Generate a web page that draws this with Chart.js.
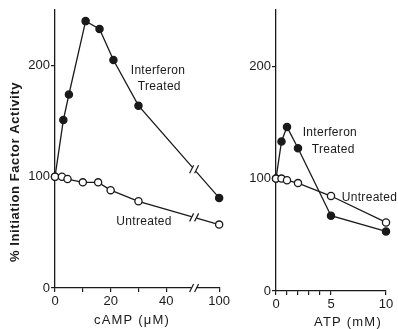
<!DOCTYPE html>
<html>
<head>
<meta charset="utf-8">
<script src="https://cdn.jsdelivr.net/npm/chart.js@4"></script>
<style>
  html, body { margin: 0; padding: 0; background: #fff; }
  #wrap { position: relative; width: 398px; height: 329px; }
  #c1 { position: absolute; left: 0; top: 0; }
  #c2 { position: absolute; left: 232px; top: 0; }
</style>
</head>
<body>
<div id="wrap">
  <canvas id="c1" width="232" height="329"></canvas>
  <canvas id="c2" width="166" height="329"></canvas>
</div>
<script>
// cAMP panel (uM), axis broken between 50 and 100
const campXTreated = [0, 3, 5, 11, 16, 21, 30, 100]
const campTreated = [100, 151, 174, 240, 233, 205, 164, 81]
const campXUntreated = [0, 2.5, 4.5, 10, 15.5, 20, 30, 100]
const campUntreated = [100, 100, 98, 95, 95, 88, 78, 57]
const campTicks = [0, 10, 20, 30, 40, 100]
const campTickLabels = ['0', '', '20', '', '40', '100']

// ATP panel (mM)
const atpX = [0, 0.5, 1, 2, 5, 10]
const atpTreated = [100, 133, 146, 127, 67, 53]
const atpUntreated = [100, 100, 98.5, 96, 84.5, 61]
const atpTicks = [0, 1, 2, 3, 4, 5, 10]
const atpTickLabels = ['0', '', '', '', '', '5', '10']

const yTicks = [0, 100, 200]

const tinta = '#1a1a1a'
const fonte = '"Liberation Sans", Arial, sans-serif'

//quebra do eixo: 50 -> 50, 100 -> 59
function quebra (v) {
  return v > 50 ? 50 + (v - 50) * 9 / 50 : v
}

function pontos (xs, ys, mapa) {
  return xs.map((x, i) => ({ x: mapa ? mapa(x) : x, y: ys[i] }))
}

function serie (data, cheio) {
  return {
    data: data,
    borderColor: tinta,
    borderWidth: 1.3,
    pointRadius: 3.6,
    pointBorderWidth: 1.3,
    pointBorderColor: tinta,
    pointBackgroundColor: cheio ? tinta : '#fff',
    tension: 0,
    fill: false,
    clip: false
  }
}

function escalas (xMin, xMax, ticksX, labelsX, yWidth, xHeight) {
  return {
    x: {
      type: 'linear', min: xMin, max: xMax,
      border: { display: true, color: tinta, width: 1.3 },
      grid: { display: true, drawOnChartArea: false, drawTicks: true, tickLength: 4, color: tinta, lineWidth: 1.2 },
      afterBuildTicks: (s) => { s.ticks = ticksX.map(v => ({ value: v })) },
      ticks: {
        autoSkip: false, maxRotation: 0, padding: 2, color: tinta,
        font: { family: fonte, size: 13 },
        callback: (v, i) => labelsX[i]
      },
      afterFit: (s) => { s.height = xHeight }
    },
    y: {
      type: 'linear', min: 0, max: 250,
      border: { display: true, color: tinta, width: 1.3 },
      grid: { display: true, drawOnChartArea: false, drawTicks: true, tickLength: 4, color: tinta, lineWidth: 1.2 },
      afterBuildTicks: (s) => { s.ticks = yTicks.map(v => ({ value: v })) },
      ticks: {
        autoSkip: false, padding: 1, color: tinta,
        font: { family: fonte, size: 13 },
        callback: (v) => String(v)
      },
      afterFit: (s) => { s.width = yWidth }
    }
  }
}

//textos soltos dentro do grafico, em coordenadas de dados
function pluginTextos (textos) {
  return {
    id: 'textos',
    afterDatasetsDraw (chart) {
      const c = chart.ctx
      const sx = chart.scales.x
      const sy = chart.scales.y
      c.save()
      c.fillStyle = tinta
      c.font = '12px ' + fonte
      c.letterSpacing = '0.3px'
      c.textAlign = 'center'
      c.textBaseline = 'middle'
      textos.forEach(t => {
        c.fillText(t.texto, sx.getPixelForValue(t.x), sy.getPixelForValue(t.y))
      })
      c.restore()
    }
  }
}

//titulo do eixo x, centro em pixels do canvas
function pluginTituloX (texto, cx, cy) {
  return {
    id: 'tituloX',
    afterDraw (chart) {
      const c = chart.ctx
      c.save()
      c.fillStyle = tinta
      c.font = '13px ' + fonte
      c.letterSpacing = '1.2px'
      c.textAlign = 'center'
      c.textBaseline = 'middle'
      c.fillText(texto, cx, cy)
      c.restore()
    }
  }
}

//desenha o simbolo de quebra (//) no eixo x e nas linhas
function pluginQuebra (valorQuebra) {
  return {
    id: 'quebra',
    afterDatasetsDraw (chart) {
      const c = chart.ctx
      const sx = chart.scales.x
      const px = sx.getPixelForValue(valorQuebra)
      function barras (x, y) {
        c.fillStyle = '#fff'
        c.fillRect(x - 2.5, y - 2, 5, 4)
        c.strokeStyle = tinta
        c.lineWidth = 1.2
        c.beginPath()
        c.moveTo(x - 4.5, y + 4); c.lineTo(x - 0.5, y - 4)
        c.moveTo(x + 0.5, y + 4); c.lineTo(x + 4.5, y - 4)
        c.stroke()
      }
      c.save()
      chart.data.datasets.forEach((ds, i) => {
        const pts = chart.getDatasetMeta(i).data
        for (let k = 1; k < pts.length; k++) {
          const a = pts[k - 1]
          const b = pts[k]
          if (a.x <= px && b.x >= px) {
            const y = a.y + (b.y - a.y) * (px - a.x) / (b.x - a.x)
            barras(px, y)
          }
        }
      })
      barras(px, chart.chartArea.bottom)
      c.restore()
    }
  }
}

//titulo do eixo y, rotacionado
const pluginTituloY = {
  id: 'tituloY',
  afterDraw (chart) {
    const c = chart.ctx
    c.save()
    c.translate(15, 172)
    c.rotate(-Math.PI / 2)
    c.fillStyle = tinta
    c.font = 'bold 13px ' + fonte
    c.letterSpacing = '0.6px'
    c.textAlign = 'center'
    c.textBaseline = 'middle'
    c.fillText('% Initiation Factor Activity', 0, 0)
    c.restore()
  }
}

Chart.defaults.animation = false

new Chart(document.getElementById('c1'), {
  type: 'line',
  data: {
    datasets: [
      serie(pontos(campXUntreated, campUntreated, quebra), false),
      serie(pontos(campXTreated, campTreated, quebra), true)
    ]
  },
  options: {
    responsive: false,
    layout: { padding: { top: 10, right: 12, left: 0, bottom: 0 } },
    plugins: {
      legend: { display: false },
      tooltip: { enabled: false }
    },
    scales: escalas(0, quebra(100), campTicks.map(quebra), campTickLabels, 55, 41)
  },
  plugins: [
    pluginTextos([
      { texto: 'Interferon', x: 37, y: 195 },
      { texto: 'Treated', x: 37.5, y: 181 },
      { texto: 'Untreated', x: 32, y: 60 }
    ]),
    pluginQuebra(50),
    pluginTituloY,
    pluginTituloX('cAMP (\u03bcM)', 132, 320)
  ]
})

new Chart(document.getElementById('c2'), {
  type: 'line',
  data: {
    datasets: [
      serie(pontos(atpX, atpUntreated), false),
      serie(pontos(atpX, atpTreated), true)
    ]
  },
  options: {
    responsive: false,
    layout: { padding: { top: 10, right: 12, left: 0, bottom: 0 } },
    plugins: {
      legend: { display: false },
      tooltip: { enabled: false }
    },
    scales: escalas(0, 10, atpTicks, atpTickLabels, 44, 38)
  },
  plugins: [
    pluginTextos([
      { texto: 'Interferon', x: 4.9, y: 140.5 },
      { texto: 'Treated', x: 5.2, y: 126 },
      { texto: 'Untreated', x: 8.5, y: 83 }
    ]),
    pluginTituloX('ATP (mM)', 348 - 232, 322)
  ]
})
</script>
</body>
</html>
